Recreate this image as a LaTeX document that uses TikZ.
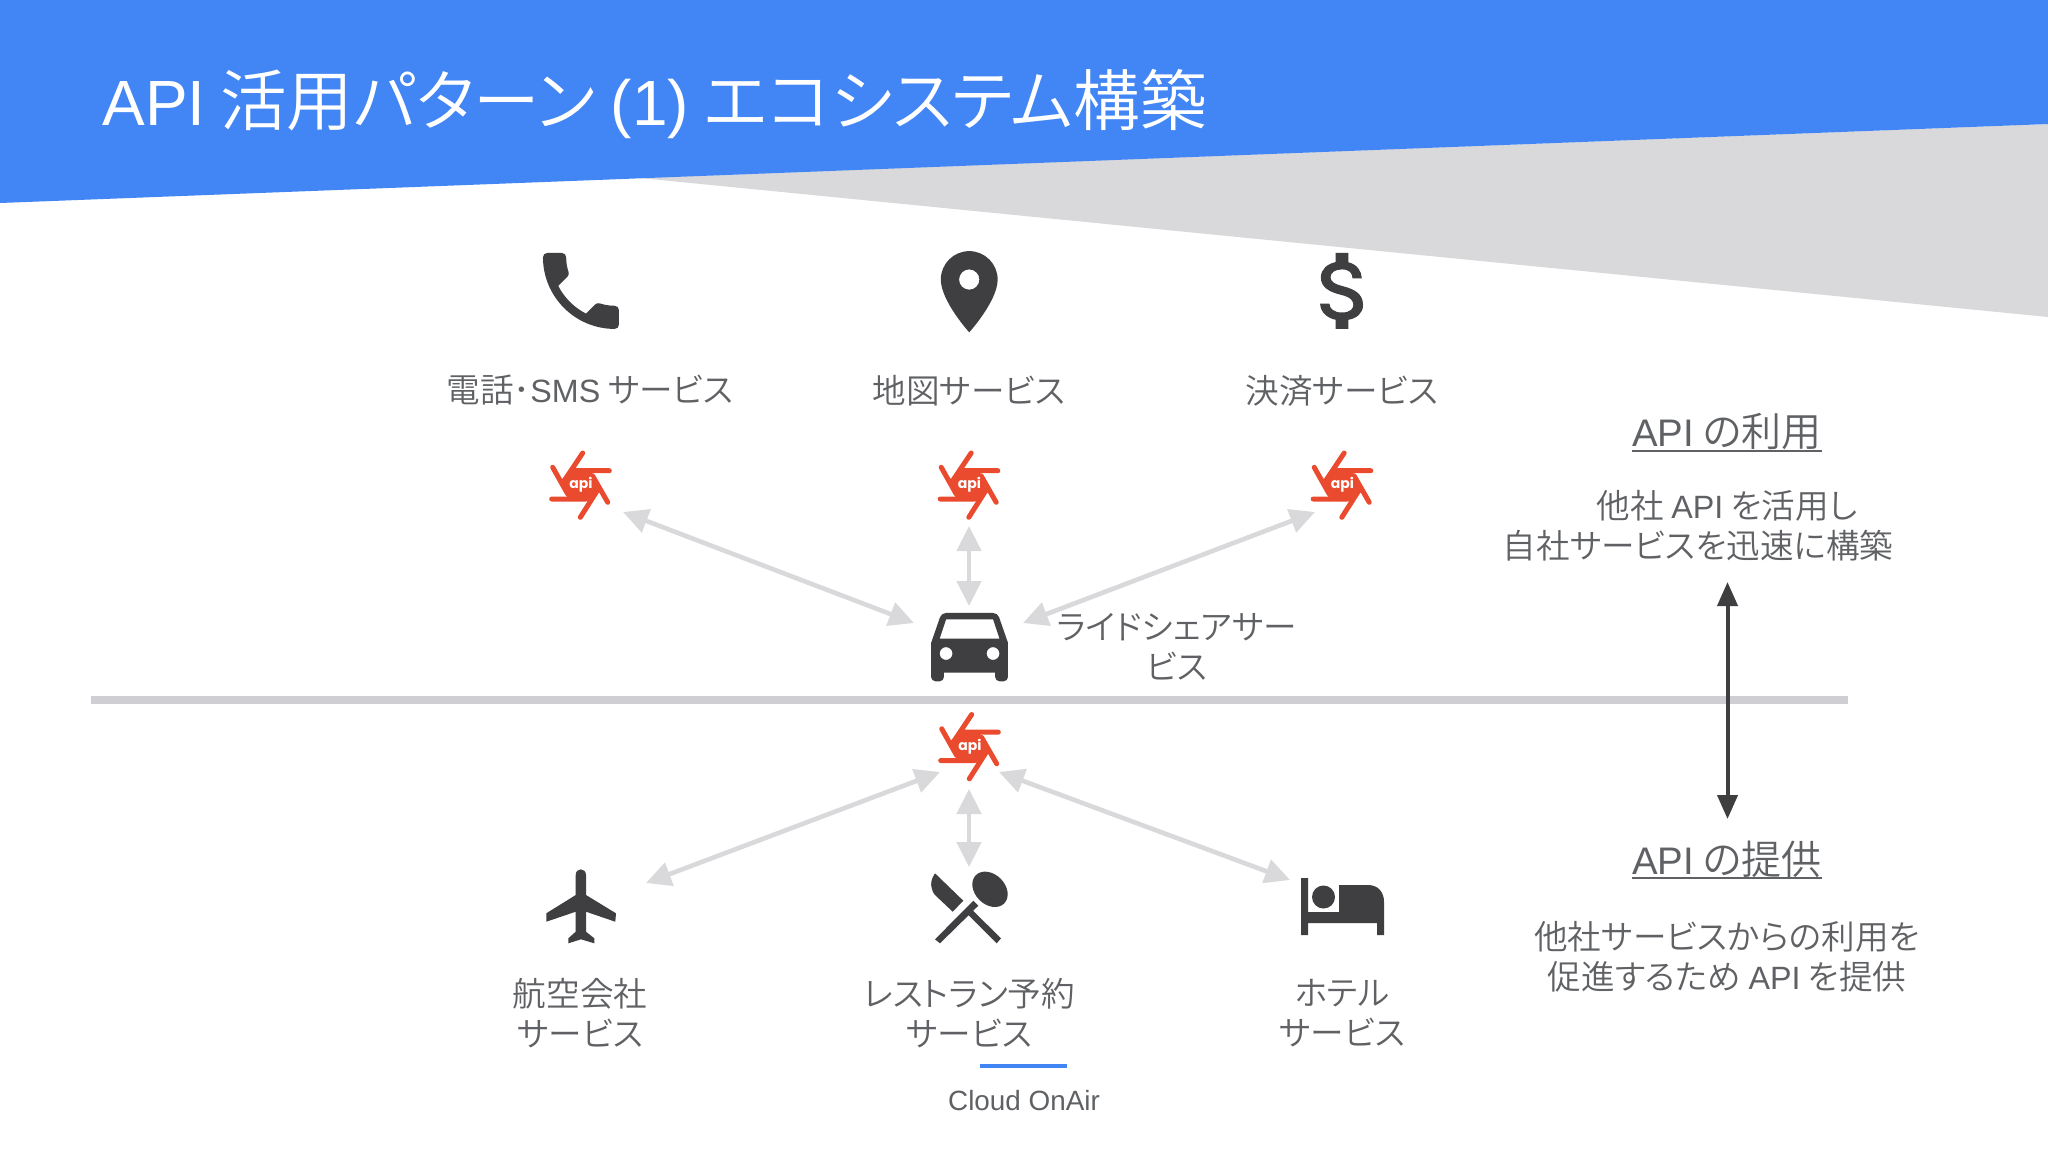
\documentclass[tikz,border=0pt]{standalone}
\usepackage{fontspec}
\setmainfont{Noto Sans CJK JP DemiLight}[RawFeature=+palt]
\newfontfamily\latf{Liberation Sans}[Scale=0.96]
\newfontfamily\apif{Poppins}
\newcommand\ltn[1]{{\latf #1}}
\usetikzlibrary{arrows.meta,svg.path}
\definecolor{gblue}{HTML}{4285F4}
\definecolor{wedge}{HTML}{D9D9DB}
\definecolor{icon}{HTML}{3F3E41}
\definecolor{txt}{HTML}{5F6164}
\definecolor{apired}{HTML}{EA4B2E}
\definecolor{arrowg}{HTML}{D9D9DC}
\definecolor{divider}{HTML}{CFCED2}
\tikzset{
  x=0.5pt,y=-0.5pt,
  lab/.style={text=txt,inner sep=0pt,align=center,font=\fontsize{16.8}{20}\selectfont},
  head/.style={text=txt,inner sep=0pt,font=\fontsize{20}{24}\selectfont},
  link/.style={draw=arrowg,line width=2.3pt,{Triangle[length=12.5pt,width=12pt]}-{Triangle[length=12.5pt,width=12pt]}},
  glyph/.style={fill=icon,draw=none,even odd rule},
  apiicon/.pic={
    \fill[apired] (-11.7,-14.3)--(9,-14.3)--(12,-10)--(20,5)--(15,9)--(8,14)--(-13.3,14)--(-14,8)--(-20,-3)--cycle;
    \draw[apired,line width=2.5pt,line cap=round]
      (1.7,-32)--(-17.7,-3)
      (28.3,-14.3)--(-8,-14.3)
      (26.7,17.3)--(11.7,-9)
      (-0.7,32.3)--(16,6)
      (-29.3,14)--(5,14)
      (-28.3,-17.7)--(-13.3,9);
    \node[text=white,inner sep=0pt,font=\apif\bfseries\fontsize{7}{8}\selectfont] at (0,0) {api};
  }
}
\begin{document}
\begin{tikzpicture}
\useasboundingbox (0,0) rectangle (2048,1152);
\fill[white] (0,0) rectangle (2048,1152);
\fill[wedge] (640,178)--(2048,124)--(2048,317)--cycle;
\fill[gblue] (0,0)--(2048,0)--(2048,124)--(0,203)--cycle;
\node[text=white,inner sep=0pt,anchor=base west,font=\fontsize{33.3}{36}\selectfont] (title) at (102,125) {\ltn{API} 活用パターン \ltn{(1)} エコシステム構築};

% icons
\begin{scope}[shift={(530.3,240.3)},xscale=2.11,yscale=-2.11]
\fill[glyph] svg {M 6.62 10.79 c 1.44 2.83 3.76 5.14 6.59 6.59 l 2.2 -2.2 c 0.27 -0.27 0.67 -0.36 1.02 -0.24 c 1.12 0.37 2.33 0.57 3.57 0.57 c 0.55 0 1 0.45 1 1 V 20 c 0 0.55 -0.45 1 -1 1 c -9.39 0 -17 -7.61 -17 -17 c 0 -0.55 0.45 -1 1 -1 h 3.5 c 0.55 0 1 0.45 1 1 c 0 1.25 0.2 2.45 0.57 3.57 c 0.11 0.35 0.03 0.74 -0.25 1.02 l -2.2 2.2 z};
\end{scope}
\begin{scope}[shift={(920.5,243)},xscale=2.03,yscale=-2.03]
\fill[glyph] svg {M 12 2 C 8.13 2 5 5.13 5 9 c 0 5.25 7 13 7 13 s 7 -7.75 7 -13 c 0 -3.87 -3.13 -7 -7 -7 z M 12 11.5 c -1.38 0 -2.5 -1.12 -2.5 -2.5 s 1.12 -2.5 2.5 -2.5 s 2.5 1.12 2.5 2.5 s -1.12 2.5 -2.5 2.5 z};
\end{scope}
\begin{scope}[shift={(1293.4,240.3)},xscale=2.11,yscale=-2.11]
\fill[glyph] svg {M 11.8 10.9 c -2.27 -0.59 -3 -1.2 -3 -2.15 c 0 -1.09 1.01 -1.85 2.7 -1.85 c 1.78 0 2.44 0.85 2.5 2.1 h 2.21 c -0.07 -1.72 -1.12 -3.3 -3.21 -3.81 V 3 h -3 v 2.16 c -1.94 0.42 -3.5 1.68 -3.5 3.61 c 0 2.31 1.91 3.46 4.7 4.13 c 2.5 0.6 3 1.48 3 2.41 c 0 0.69 -0.49 1.79 -2.7 1.79 c -2.06 0 -2.87 -0.92 -2.98 -2.1 h -2.2 c 0.12 2.19 1.76 3.42 3.68 3.83 V 21 h 3 v -2.15 c 1.95 -0.37 3.5 -1.5 3.5 -3.55 c 0 -2.84 -2.43 -3.81 -4.7 -4.4 z};
\end{scope}
\begin{scope}[shift={(918.3,591.6)},xscale=2.135,yscale=-2.135]
\fill[glyph] svg {M 18.92 6.01 C 18.72 5.42 18.16 5 17.5 5 h -11 c -0.66 0 -1.21 0.42 -1.42 1.01 L 3 12 v 8 c 0 0.55 0.45 1 1 1 h 1 c 0.55 0 1 -0.45 1 -1 v -1 h 12 v 1 c 0 0.55 0.45 1 1 1 h 1 c 0.55 0 1 -0.45 1 -1 v -8 l -2.08 -5.99 z M 6.5 16 c -0.83 0 -1.5 -0.67 -1.5 -1.5 S 5.67 13 6.5 13 s 1.5 0.67 1.5 1.5 S 7.33 16 6.5 16 z M 17.5 16 c -0.83 0 -1.5 -0.67 -1.5 -1.5 s 0.67 -1.5 1.5 -1.5 s 1.5 0.67 1.5 1.5 s -0.67 1.5 -1.5 1.5 z M 5 11 l 1.5 -4.5 h 11 L 19 11 H 5 z};
\end{scope}
% plane
\fill[icon] (575.7,875) .. controls (575.7,871.5) and (578,869.3) .. (580.8,869.3) .. controls (583.6,869.3) and (586,871.5) .. (586,875)
  --(586,895)--(616,913.3)--(615.3,921.7)--(586,911.7)--(586,931.7)--(594.3,938.3)--(594.3,943.3)--(581,939.3)--(568.3,943.3)--(568.3,938.3)--(575.7,931.7)--(575.7,911.7)--(546.3,921.7)--(546.3,913.3)--(575.7,895)--cycle;
% cutlery
\fill[icon] (935,873.3) .. controls (931,879) and (930.5,884) .. (931.7,888) .. controls (932.5,891) and (933,893) .. (935,895)--(952.7,911.7)--(963.3,900.7)--cycle;
\fill[icon,rotate around={45:(990,889.3)}] (990,889.3) ellipse [x radius=15,y radius=20];
\fill[icon] (973.3,900.7)--(978.3,905.7)--(940,943.3)--(935,939.3)--cycle;
\fill[icon] (972.3,910)--(1001,938.3)--(996.7,943.3)--(968.3,915)--cycle;
% bed
\fill[icon] (1301,878)--(1308,878)--(1308,912)--(1339,912)--(1339,885)--(1368,885) .. controls (1378,885) and (1384,892) .. (1384,902)
  --(1384,935)--(1377,935)--(1377,923)--(1308,923)--(1308,935)--(1301,935)--cycle;
\fill[icon] (1323.5,897) circle [radius=11.5];

% api icons
\pic (apiA) at (581,485) {apiicon};
\pic (apiB) at (969.5,485) {apiicon};
\pic (apiC) at (1342.5,485) {apiicon};
\pic (apiD) at (970,746.5) {apiicon};

% connector ends
\coordinate (a1) at (623,512); \coordinate (c1) at (914,623);
\coordinate (a2) at (969,526); \coordinate (c2) at (969,606);
\coordinate (a3) at (1315,512); \coordinate (c3) at (1023,623);
\coordinate (d1) at (940,772); \coordinate (p1) at (646,883);
\coordinate (d2) at (969,789); \coordinate (p2) at (969,867);
\coordinate (d3) at (999,772); \coordinate (p3) at (1290,880);
\draw[link] (a1)--(c1);
\draw[link] (a2)--(c2);
\draw[link] (a3)--(c3);
\draw[link] (d1)--(p1);
\draw[link] (d2)--(p2);
\draw[link] (d3)--(p3);

% divider
\coordinate (divL) at (91,699.5); \coordinate (divR) at (1848,699.5);
\draw[divider,line width=4pt] (divL)--(divR);
% vertical arrow
\coordinate (vT) at (1727.5,582); \coordinate (vB) at (1727.5,819);
\draw[icon,line width=2pt,{Triangle[length=12pt,width=10pt]}-{Triangle[length=12pt,width=10pt]}] (vT)--(vB);

% labels
\node[lab] (l1) at (590,390) {電話･\ltn{SMS} サービス};
\node[lab] (l2) at (969,391) {地図サービス};
\node[lab] (l3) at (1342,391) {決済サービス};
\node[lab] (car) at (1177,647) {ライドシェアサー\\ビス};
\node[lab] (l4) at (580,1013) {航空会社\\サービス};
\node[lab] (l5) at (969,1013) {レストラン予約\\サービス};
\node[lab] (l6) at (1342,1013) {ホテル\\サービス};
\node[head] (h1) at (1727,432) {\ltn{API} の利用};
\draw[txt,line width=1pt] (h1.south west)--(h1.south east);
\node[head] (h2) at (1727,859) {\ltn{API} の提供};
\draw[txt,line width=1pt] (h2.south west)--(h2.south east);
\node[lab] (t1) at (1727,506) {他社 \ltn{API} を活用し};
\node[lab] (t2) at (1698,546) {自社サービスを迅速に構築};
\node[lab] (t3) at (1727,957) {他社サービスからの利用を\\促進するため \ltn{API} を提供};
\coordinate (bl1) at (980,1066); \coordinate (bl2) at (1067,1066);
\draw[gblue,line width=2pt] (bl1)--(bl2);
\node[text=txt,inner sep=0pt,font=\latf\fontsize{14.5}{16}\selectfont] (brand) at (1024,1101) {Cloud OnAir};
\end{tikzpicture}
\end{document}
